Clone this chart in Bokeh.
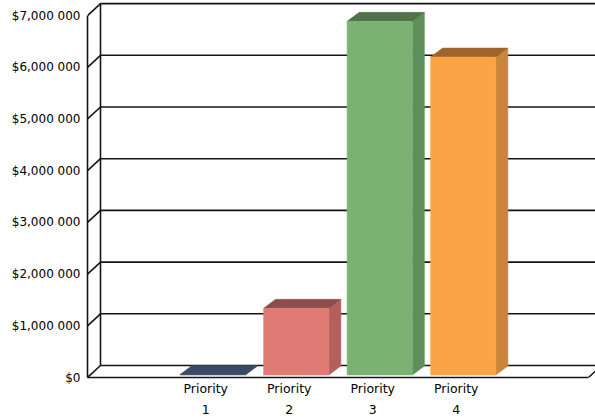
from bokeh.plotting import figure
from bokeh.models import Range1d, FixedTicker, LinearAxis
from bokeh.embed import file_html
from bokeh.resources import INLINE

# --- data -------------------------------------------------------------
categories = ["Priority\n1", "Priority\n2", "Priority\n3", "Priority\n4"]
amounts = [10_000, 1_290_000, 6_840_000, 6_150_000]

tick_values = [0, 1_000_000, 2_000_000, 3_000_000,
               4_000_000, 5_000_000, 6_000_000, 7_000_000]
tick_labels = ["$0", "$1,000 000", "$2,000 000", "$3,000 000",
               "$4,000 000", "$5,000 000", "$6,000 000", "$7,000 000"]

front_colors = ["#3b4a68", "#e07a74", "#7bb274", "#fba445"]
side_colors = ["#2f3c55", "#b5605c", "#5f8f5a", "#c98539"]
top_colors = ["#3a4966", "#8c4c4a", "#4f7249", "#9e642c"]

# --- geometry of the pseudo-3D box (pixels) ----------------------------
FRAME_W, FRAME_H = 508, 377
SLOT_PX = 83.5            # width of one category slot
PX_PER_DOLLAR = 51.7e-6   # vertical scale
WALL_DX, WALL_DY = 13, 12  # depth of the floor / side wall
BAR_LIFT = 2.5            # bars stand slightly behind the floor's front edge
BAR_DX, BAR_DY = 12, 9    # depth of each bar
BAR_W = 0.782             # bar width in slots
N_SLOTS = 6
LABEL_SHIFT = -7          # category labels sit a little left of the bars


def sx(px):
    return px / SLOT_PX


def sy(px):
    return px / PX_PER_DOLLAR


x_end = FRAME_W / SLOT_PX
y_end = FRAME_H / PX_PER_DOLLAR

p = figure(frame_width=FRAME_W, frame_height=FRAME_H,
           x_range=Range1d(0, x_end), y_range=Range1d(0, y_end),
           x_axis_type=None, y_axis_type=None,
           output_backend="svg", toolbar_location=None,
           min_border_left=87, min_border_right=0,
           min_border_top=0, min_border_bottom=43)
p.outline_line_color = None
p.background_fill_color = "white"
p.border_fill_color = "white"

LINE = "#151515"
LW = 1.6

# back wall gridlines and their diagonals on the side wall
wx, wy = sx(WALL_DX), sy(WALL_DY)
p.segment(x0=[0] * len(tick_values), y0=tick_values,
          x1=[wx] * len(tick_values), y1=[v + wy for v in tick_values],
          line_color=LINE, line_width=LW)
p.segment(x0=[wx] * len(tick_values), y0=[v + wy for v in tick_values],
          x1=[x_end] * len(tick_values), y1=[v + wy for v in tick_values],
          line_color=LINE, line_width=LW)
# back corner edge and right floor edge
p.segment(x0=[wx, N_SLOTS], y0=[wy, 0],
          x1=[wx, N_SLOTS + wx], y1=[tick_values[-1] + wy, wy],
          line_color=LINE, line_width=LW)

# bars: front, side and top faces
lift = sy(BAR_LIFT)
bdx, bdy = sx(BAR_DX), sy(BAR_DY)
for i, amt in enumerate(amounts):
    c = i + 1.5
    l, r = c - BAR_W / 2, c + BAR_W / 2
    t = lift + amt
    b = lift
    # side face
    p.patch([r, r + bdx, r + bdx, r], [b, b + bdy, t + bdy, t],
            fill_color=side_colors[i], line_color=side_colors[i], line_width=0.5)
    # top face
    p.patch([l, r, r + bdx, l + bdx], [t, t, t + bdy, t + bdy],
            fill_color=top_colors[i], line_color=top_colors[i], line_width=0.5)
    # front face
    p.quad(left=l, right=r, bottom=b, top=t,
           fill_color=front_colors[i], line_color=front_colors[i], line_width=0.5)

# value axis on the front plane
yaxis = LinearAxis(ticker=FixedTicker(ticks=tick_values),
                   bounds=(0, tick_values[-1]),
                   major_label_overrides=dict(zip(tick_values, tick_labels)),
                   axis_line_color=LINE, axis_line_width=LW,
                   major_tick_in=0, major_tick_out=0, minor_tick_in=0, minor_tick_out=0,
                   major_label_standoff=7,
                   major_label_text_font="DejaVu Sans",
                   major_label_text_font_size="12px",
                   major_label_text_color="#000000")
p.add_layout(yaxis, "left")

# category axis along the floor's front edge
cat_ticks = [i + 1.5 + sx(LABEL_SHIFT) for i in range(len(categories))]
xaxis = LinearAxis(ticker=FixedTicker(ticks=cat_ticks),
                   bounds=(0, N_SLOTS),
                   major_label_overrides=dict(zip(cat_ticks, categories)),
                   axis_line_color=LINE, axis_line_width=LW,
                   major_tick_in=0, major_tick_out=0, minor_tick_in=0, minor_tick_out=0,
                   major_label_standoff=3,
                   major_label_text_font="DejaVu Sans",
                   major_label_text_font_size="12.5px",
                   major_label_text_line_height=1.4,
                   major_label_text_color="#000000")
p.add_layout(xaxis, "below")

open("out.html", "w").write(file_html(p, INLINE))
